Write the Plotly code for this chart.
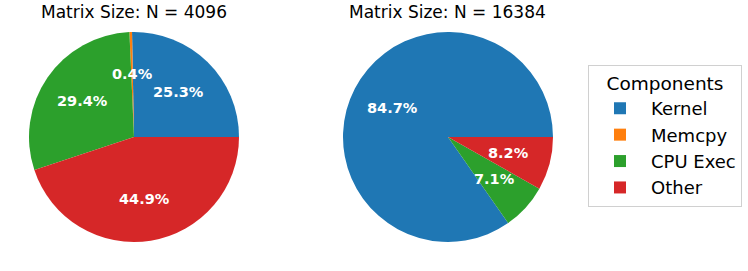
import math
import plotly.graph_objects as go

components = ["Kernel", "Memcpy", "CPU Exec", "Other"]
colors = ["#1f77b4", "#ff7f0e", "#2ca02c", "#d62728"]
titles = ["Matrix Size: N = 4096", "Matrix Size: N = 16384"]
values_4096 = [25.3, 0.4, 29.4, 44.9]
values_16384 = [84.7, 0.0, 7.1, 8.2]

W, H = 748, 271
fig = go.Figure()
domains = [(29, 239), (343, 553)]
ytop, ybot = 32, 242
START_ANGLE = 0   # math convention: 0 deg = 3 o'clock, wedges go counterclockwise
LABEL_DIST = 0.6  # matplotlib pctdistance

for vals, (x0, x1), t in zip([values_4096, values_16384], domains, titles):
    total = sum(vals)
    # plotly rotation is clockwise from 12 o'clock; with counterclockwise
    # direction the first slice ends at `rotation`
    first = 360 * vals[0] / total
    rot = (90 - START_ANGLE) - first
    if rot < -360:
        rot += 360
    fig.add_trace(go.Pie(
        labels=components, values=vals, sort=False, direction="counterclockwise",
        rotation=rot, marker=dict(colors=colors, line=dict(width=0)),
        textinfo="none",
        domain=dict(x=[x0 / W, x1 / W], y=[(H - ybot) / H, (H - ytop) / H]),
        hoverinfo="label+percent",
    ))
    fig.add_annotation(text=t, x=(x0 + x1) / 2 / W, y=1 - 12 / H, xref="paper", yref="paper",
                       showarrow=False, xanchor="center", yanchor="middle",
                       font=dict(size=17, family="DejaVu Sans", color="black"))
    # percentage labels, placed like matplotlib autopct (mid-angle, 0.6 radius)
    cx, cy = (x0 + x1) / 2, (ytop + ybot) / 2
    r = (x1 - x0) / 2
    cum = 0.0
    for v in vals:
        if v > 0:
            ang = math.radians(START_ANGLE + 360 * (cum + v / 2) / total)
            px = cx + LABEL_DIST * r * math.cos(ang)
            py = cy - LABEL_DIST * r * math.sin(ang)
            fig.add_annotation(text=f"<b>{100 * v / total:.1f}%</b>", x=px / W, y=1 - py / H,
                               xref="paper", yref="paper", showarrow=False,
                               xanchor="center", yanchor="middle",
                               font=dict(size=14.5, family="DejaVu Sans", color="white"))
        cum += v

fig.update_layout(
    width=W, height=H, margin=dict(l=0, r=0, t=0, b=0),
    paper_bgcolor="white", plot_bgcolor="white",
    font=dict(family="DejaVu Sans", color="black"),
    legend=dict(
        title=dict(text="Components", font=dict(size=18.5), side="top center"),
        font=dict(size=18), x=588 / W, y=1 - 65 / H, xanchor="left", yanchor="top",
        bordercolor="#d0d0d0", borderwidth=1, bgcolor="white", itemwidth=52,
        traceorder="normal", tracegroupgap=0,
    ),
)
fig.write_html("out.html", config={"displayModeBar": False},
               post_script="document.body.style.margin='0';")
